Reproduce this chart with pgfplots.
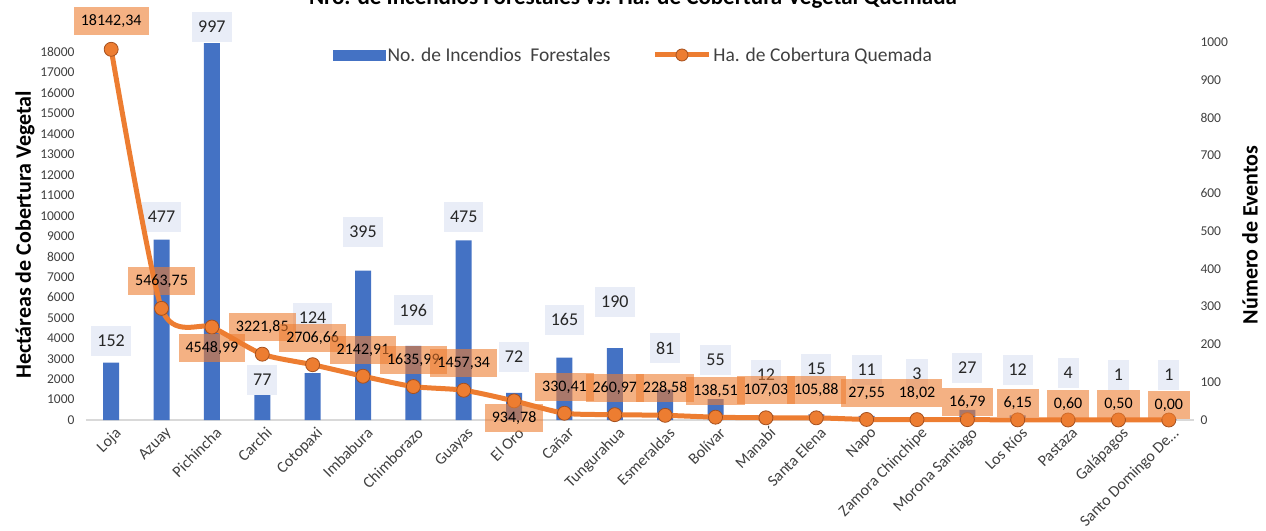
\documentclass[border=0pt]{standalone}
\usepackage{pgfplots}
\pgfplotsset{compat=1.18}
\usepackage{pgfplotstable}
\usepackage{fontspec}
\setmainfont{Carlito}
\definecolor{barblue}{HTML}{4472C4}
\definecolor{lineorange}{HTML}{ED7D31}
\definecolor{markedge}{HTML}{A5501E}
\definecolor{labbg}{HTML}{E9EDF7}
\definecolor{ticktext}{HTML}{404040}

\pgfplotstableread{
idx bars bly btxt ha hly htxt
0 152 209 152 18142.34 19527 18142,34
1 477 537 477 5463.75 6803 5463,75
2 997 1040 997 4548.99 3524 4548,99
3 77 106 77 3221.85 4551 3221,85
4 124 270 124 2706.66 4013 2706,66
5 395 497 395 2142.91 3426 2142,91
6 196 291 196 1635.99 2936 1635,99
7 475 537 475 1457.34 2790 1457,34
8 72 167 72 934.78 98 934,78
9 165 265 165 330.41 1615 330,41
10 190 312 190 260.97 1566 260,97
11 81 190 81 228.58 1566 228,58
12 55 159 55 138.51 1419 138,51
13 12 119 12 107.03 1468 107,03
14 15 135 15 105.88 1468 105,88
15 11 132 11 27.55 1321 27,55
16 3 122 3 18.02 1321 18,02
17 27 138 27 16.79 881 16,79
18 12 132 12 6.15 832 6,15
19 4 124 4 0.60 783 0,60
20 1 119 1 0.50 783 0,50
21 1 119 1 0.00 734 0,00
}\data

\begin{document}
\begin{tikzpicture}
\begin{axis}[
  width=1108pt, height=378pt, scale only axis,
  xmin=-0.5, xmax=21.5, ymin=0, ymax=1000,
  axis y line*=right, axis x line*=bottom,
  x axis line style={-, draw=black!15, line width=1.8pt},
  y axis line style={draw=none},
  xtick={0,1,2,3,4,5,6,7,8,9,10,11,12,13,14,15,16,17,18,19,20,21},
  xticklabels={Loja,Azuay,Pichincha,Carchi,Cotopaxi,Imbabura,Chimborazo,Guayas,El Oro,Cañar,Tungurahua,Esmeraldas,Bolívar,Manabí,Santa Elena,Napo,Zamora Chinchipe,Morona Santiago,Los Ríos,Pastaza,Galápagos,{Santo Domingo De\ldots}},
  ytick={0,100,200,300,400,500,600,700,800,900,1000},
  major tick length=0pt,
  scaled y ticks=false,
  /pgf/number format/assume math mode=true,
  /pgf/number format/1000 sep={},
  yticklabel style={font=\fontsize{13.5}{15}\selectfont, text=ticktext, xshift=3pt},
  xticklabel style={rotate=45, anchor=north east, font=\fontsize{16}{18}\selectfont, text=ticktext, xshift=1pt, yshift=-3pt},
  every axis y label/.style={at={(axis description cs:1.0505,0.49)}, rotate=90, anchor=center, font=\bfseries\fontsize{22}{24}\selectfont},
  ylabel={Número de Eventos},
  clip=false,
]
\addplot[ybar, bar width=16pt, fill=barblue, draw=none] table[x=idx,y=bars]{\data};
\addplot[only marks, mark=none, nodes near coords, point meta=explicit symbolic,
  nodes near coords style={anchor=center, fill=labbg, font=\fontsize{18}{20}\selectfont, text=black!85, inner xsep=6pt, minimum height=30pt}]
  table[x=idx,y=bly,meta=btxt]{\data};
\end{axis}
\begin{axis}[
  width=1108pt, height=378pt, scale only axis,
  xmin=-0.5, xmax=21.5, ymin=0, ymax=18500,
  hide x axis, axis y line*=left,
  y axis line style={draw=none},
  ytick={0,1000,2000,3000,4000,5000,6000,7000,8000,9000,10000,11000,12000,13000,14000,15000,16000,17000,18000},
  major tick length=0pt,
  scaled y ticks=false,
  /pgf/number format/assume math mode=true,
  /pgf/number format/1000 sep={},
  yticklabel style={font=\fontsize{13.5}{15}\selectfont, text=ticktext, xshift=-8pt},
  every axis y label/.style={at={(axis description cs:-0.055,0.49)}, rotate=90, anchor=center, font=\bfseries\fontsize{22}{24}\selectfont},
  ylabel={Hectáreas de Cobertura Vegetal},
  clip=false,
  legend columns=2,
  legend style={at={(axis description cs:0.2229,0.9656)}, anchor=west, draw=none, fill=none,
    font=\fontsize{19.5}{21}\selectfont, text=ticktext, inner sep=0pt,
    /tikz/every even column/.append style={column sep=40pt}},
]
\addlegendimage{legend image code/.code={\fill[barblue] (0pt,-5pt) rectangle (52pt,5pt);}}
\addlegendentry{No. de Incendios\ \ Forestales}
\addplot[lineorange, line width=5pt, smooth, tension=0.4, mark=*, mark size=7pt,
  mark options={fill=lineorange, draw=markedge, line width=0.8pt},
  legend image code/.code={\draw[lineorange, line width=5pt] (0pt,0pt) -- (54pt,0pt); \draw[fill=lineorange, draw=markedge, line width=0.8pt] (27pt,0pt) circle (6pt);}]
  table[x=idx,y=ha]{\data};
\addlegendentry{Ha. de Cobertura Quemada}
\addplot[forget plot, only marks, mark=none, nodes near coords, point meta=explicit symbolic,
  nodes near coords style={anchor=center, fill=lineorange, fill opacity=0.6, text opacity=1, font=\fontsize{16}{18}\selectfont, text=black, inner xsep=7pt, minimum height=28pt}]
  table[x=idx,y=hly,meta=htxt]{\data};
\end{axis}
\node[font=\bfseries\fontsize{23}{25}\selectfont, anchor=base] at (547pt,415pt) {Nro. de Incendios Forestales vs. Ha. de Cobertura Vegetal Quemada};
\pgfresetboundingbox
\path[use as bounding box] (-86pt,-110pt) rectangle (1180pt,420pt);
\end{tikzpicture}
\end{document}
